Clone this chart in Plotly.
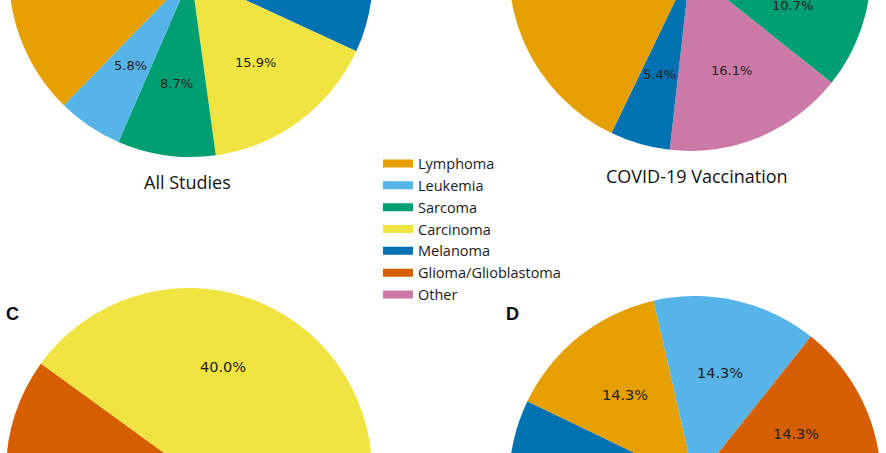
import plotly.graph_objects as go
import numpy as np

# ---------------- data ----------------
categories = ["Lymphoma", "Leukemia", "Sarcoma", "Carcinoma", "Melanoma",
              "Glioma/Glioblastoma", "Other"]
palette = ["#E69F00", "#56B4E9", "#009E73", "#F0E442", "#0072B2", "#D55E00", "#CC79A7"]

# All Studies (number of studies)
all_labels = ["Lymphoma", "Leukemia", "Sarcoma", "Carcinoma", "Melanoma",
              "Glioma/Glioblastoma", "Other"]
all_values = [26, 4, 6, 11, 8, 7, 7]

# COVID-19 Vaccination
covid_labels = ["Lymphoma", "Melanoma", "Other", "Sarcoma"]
covid_values = [38, 3, 9, 6]

# Panel C
c_labels = ["Carcinoma", "Glioma/Glioblastoma", "Lymphoma", "Melanoma"]
c_values = [2, 1, 1, 1]

# Panel D
d_labels = ["Glioma/Glioblastoma", "Leukemia", "Lymphoma", "Melanoma", "Other", "Sarcoma"]
d_values = [1, 1, 1, 1, 2, 1]

# ---------------- layout (page pixels) ----------------
W, H = 886, 920
VIEW_H = 453          # visible window height
OFFSET = 240          # figure is shifted up so that the window shows the cropped view
color_of = dict(zip(categories, palette))

panels = [
    dict(labels=all_labels, values=all_values, cx=191, cy=-25, r=182, start=90, fs=13),
    dict(labels=covid_labels, values=covid_values, cx=690, cy=-30, r=181, start=0, fs=13),
    dict(labels=c_labels, values=c_values, cx=189, cy=471, r=183, start=0, fs=14.5),
    dict(labels=d_labels, values=d_values, cx=695, cy=482, r=186, start=0, fs=14.5),
]


def px(x):
    return x / W


def py(y):
    return 1 - (y + OFFSET) / H


fig = go.Figure()
annotations = []

for p in panels:
    labs, vals = p["labels"], p["values"]
    cx, cy, r = p["cx"], p["cy"], p["r"]
    # counter-clockwise from `start` == clockwise with reversed order
    fig.add_trace(go.Pie(
        labels=labs[::-1], values=vals[::-1],
        marker=dict(colors=[color_of[l] for l in labs[::-1]], line=dict(width=0)),
        sort=False, direction="clockwise", rotation=90 - p["start"],
        textinfo="none", showlegend=False, hoverinfo="label+percent",
        domain=dict(x=[px(cx - r), px(cx + r)], y=[py(cy + r), py(cy - r)]),
    ))
    total = float(sum(vals))
    cum = 0.0
    for l, v in zip(labs, vals):
        mid = np.deg2rad(p["start"] + 360 * (cum + v / 2) / total)
        cum += v
        tx = cx + 0.6 * r * np.cos(mid)
        ty = cy - 0.6 * r * np.sin(mid)
        # percentage labels lying completely outside the cropped window are not drawn
        if ty + p["fs"] / 2 < 0 or ty - p["fs"] / 2 > VIEW_H:
            continue
        annotations.append(dict(
            x=px(tx), y=py(ty), xref="paper", yref="paper", showarrow=False,
            text=f"{100 * v / total:.1f}%", xanchor="center", yanchor="middle",
            font=dict(family="DejaVu Sans", size=p["fs"], color="#222222")))

# legend entries
for cat, col in zip(categories, palette):
    fig.add_trace(go.Scatter(x=[None], y=[None], mode="lines", name=cat,
                             line=dict(color=col, width=8), hoverinfo="skip"))

titles = [("All Studies", 187, 182), ("COVID-19 Vaccination", 697, 176)]
for t, x, y in titles:
    annotations.append(dict(x=px(x), y=py(y), xref="paper", yref="paper", showarrow=False,
                            text=t, xanchor="center", yanchor="middle",
                            font=dict(family="Open Sans", size=18, color="#111111")))

for t, x, y in [("C", 4, 313.5), ("D", 504, 313.5)]:
    annotations.append(dict(x=px(x), y=py(y), xref="paper", yref="paper", showarrow=False,
                            text=f"<b>{t}</b>", xanchor="left", yanchor="middle",
                            font=dict(family="Liberation Sans, Arial", size=18, color="#000000")))

fig.update_layout(
    width=W, height=H,
    margin=dict(l=0, r=0, t=0, b=0),
    paper_bgcolor="white", plot_bgcolor="white",
    xaxis=dict(visible=False), yaxis=dict(visible=False),
    showlegend=True,
    legend=dict(x=px(378), y=py(147.5), xanchor="left", yanchor="top",
                bgcolor="rgba(0,0,0,0)", borderwidth=0,
                font=dict(family="Open Sans", size=14.5, color="#1a1a1a")),
    annotations=annotations,
)

post = ("document.documentElement.style.margin='0';"
        "document.documentElement.style.overflow='hidden';"
        "document.body.style.margin='0';document.body.style.overflow='hidden';"
        "document.getElementById('{plot_id}').style.marginTop='-" + str(OFFSET) + "px';")

fig.write_html("out.html", post_script=post)
